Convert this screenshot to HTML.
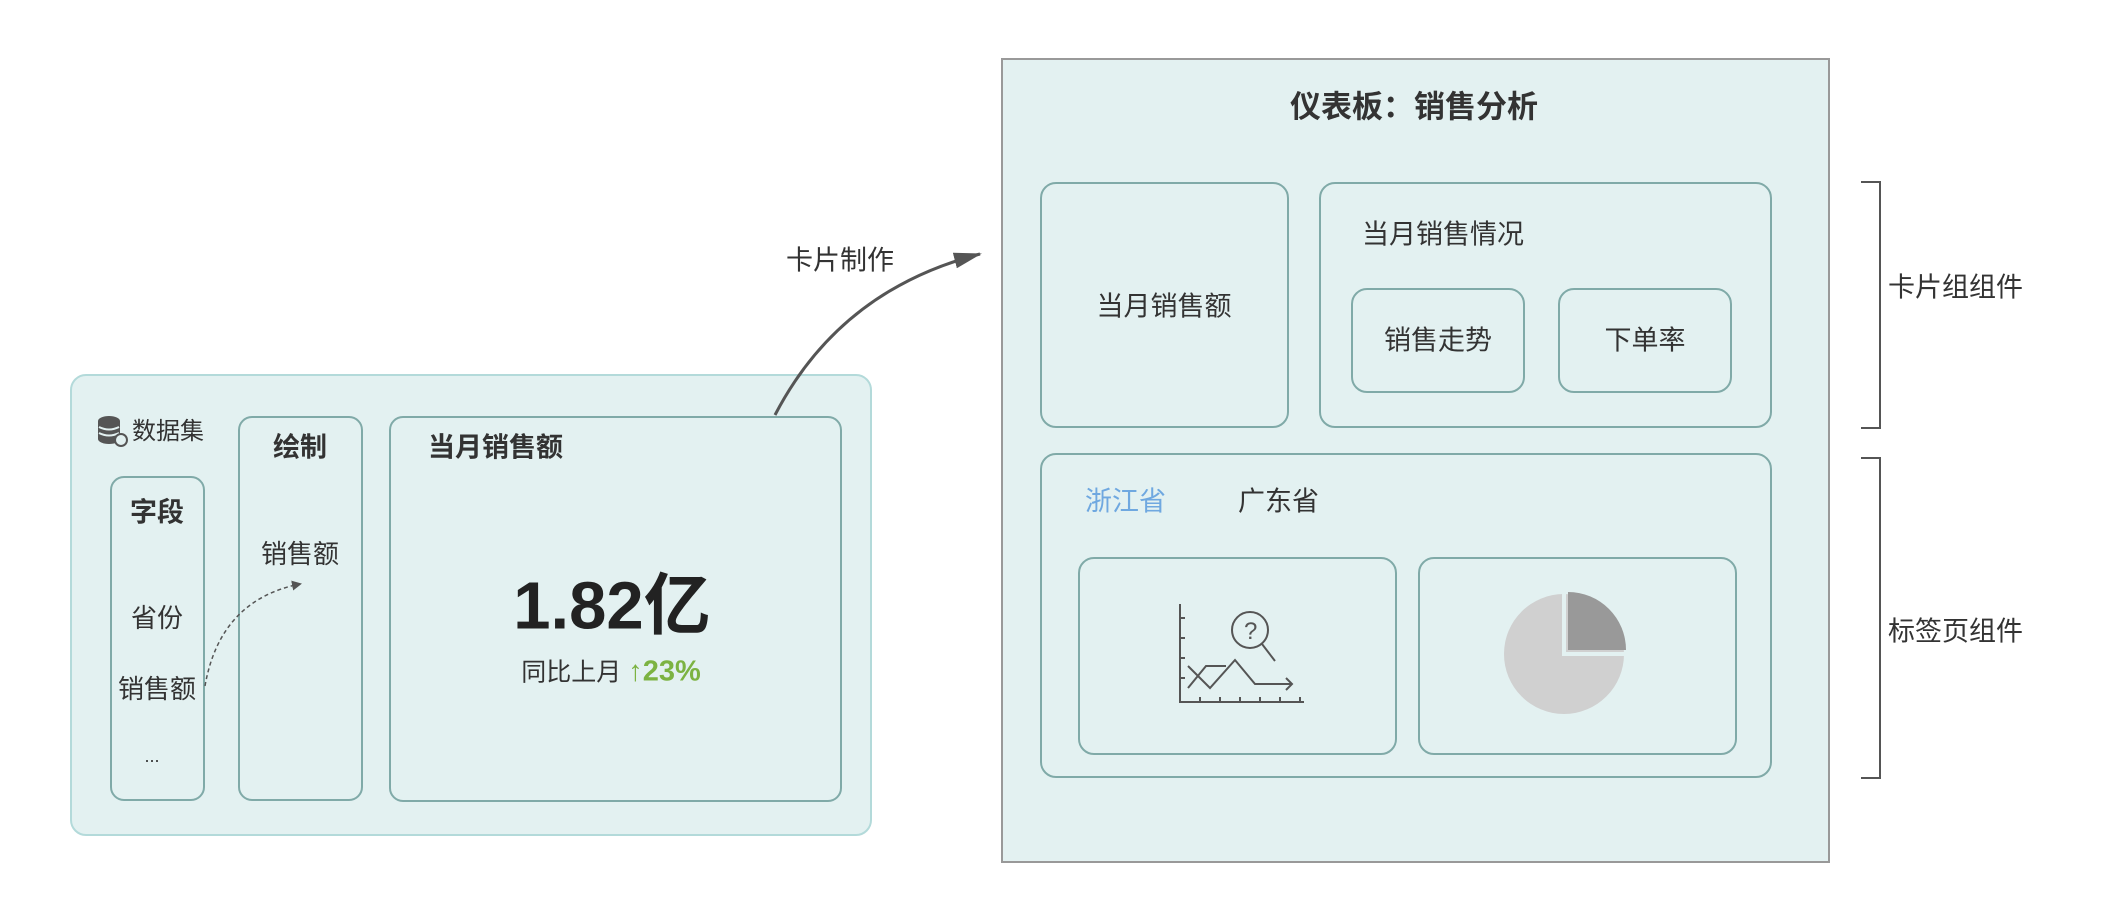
<!DOCTYPE html>
<html><head><meta charset="utf-8"><style>
*{margin:0;padding:0;box-sizing:border-box}
body{width:2110px;height:916px;background:#fff;position:relative;overflow:hidden;font-family:"Liberation Sans","Noto Sans CJK SC",sans-serif;color:#333}
.b{position:absolute;background:#e3f1f1;border:2px solid #80aaa8;border-radius:16px}
.t{position:absolute;white-space:nowrap;line-height:1;transform:translate(-50%,-50%)}
.l{position:absolute;white-space:nowrap;line-height:1;transform:translateY(-50%)}
</style></head><body>
<div class="b" style="left:70px;top:374px;width:802px;height:462px;border-color:#b3dada;border-radius:16px"></div>
<div class="b" style="left:110px;top:476px;width:95px;height:325px;border-radius:14px"></div>
<div class="b" style="left:238px;top:416px;width:125px;height:385px;border-radius:14px"></div>
<div class="b" style="left:389px;top:416px;width:453px;height:386px;border-radius:14px"></div>
<svg style="position:absolute;left:96px;top:414px" width="34" height="34" viewBox="0 0 34 34">
<ellipse cx="13" cy="7" rx="11" ry="5" fill="#555"/><rect x="2" y="7" width="22" height="18" fill="#555"/>
<ellipse cx="13" cy="25" rx="11" ry="5" fill="#555"/>
<path d="M3 13 Q13 18 23 13 M3 19 Q13 24 23 19" stroke="#e3f1f1" stroke-width="2" fill="none"/>
<circle cx="25" cy="26" r="6" fill="#e3f1f1" stroke="#555" stroke-width="2"/></svg>
<div class="l" style="left:132px;top:432px;font-size:24px">数据集</div>
<div class="t" style="left:157px;top:513px;font-size:27px;font-weight:bold">字段</div>
<div class="t" style="left:157px;top:618px;font-size:26px">省份</div>
<div class="t" style="left:157px;top:689px;font-size:26px">销售额</div>
<div class="t" style="left:152px;top:756px;font-size:18px">...</div>
<div class="t" style="left:300px;top:448px;font-size:27px;font-weight:bold">绘制</div>
<div class="t" style="left:300px;top:554px;font-size:26px">销售额</div>
<div class="l" style="left:428px;top:448px;font-size:27px;font-weight:bold">当月销售额</div>
<div class="t" style="left:612px;top:606px;font-size:67px;font-weight:bold;color:#222">1.82亿</div>
<div class="t" style="left:611px;top:672px;font-size:25px">同比上月 <span style="color:#7cb342;font-weight:bold;font-size:29px">↑23%</span></div>
<svg style="position:absolute;left:0;top:0" width="2110" height="916">
<defs><marker id="a" markerWidth="10" markerHeight="10" refX="8" refY="5" orient="auto" markerUnits="userSpaceOnUse"><path d="M0 0L10 5L0 10z" fill="#555"/></marker>
<marker id="b" markerWidth="30" markerHeight="20" refX="26" refY="10" orient="auto" markerUnits="userSpaceOnUse"><path d="M0 2L28 10L0 18z" fill="#555"/></marker></defs>
<path d="M205 686 Q220 600 300 584" stroke="#555" stroke-width="1.5" stroke-dasharray="4,3" fill="none" marker-end="url(#a)"/>
<path d="M775 415 Q840 290 980 254" stroke="#555" stroke-width="3" fill="none" marker-end="url(#b)"/>
<path d="M1861 182 H1880 V428 H1861 M1861 458 H1880 V778 H1861" stroke="#555" stroke-width="2" fill="none"/>
</svg>
<div class="t" style="left:840px;top:261px;font-size:27px">卡片制作</div>
<div style="position:absolute;left:1001px;top:58px;width:829px;height:805px;background:#e3f1f1;border:2px solid #999"></div>
<div class="t" style="left:1414px;top:107px;font-size:31px;font-weight:bold">仪表板：销售分析</div>
<div class="b" style="left:1040px;top:182px;width:249px;height:246px"></div>
<div class="t" style="left:1164px;top:307px;font-size:27px">当月销售额</div>
<div class="b" style="left:1319px;top:182px;width:453px;height:246px"></div>
<div class="l" style="left:1362px;top:235px;font-size:27px">当月销售情况</div>
<div class="b" style="left:1351px;top:288px;width:174px;height:105px"></div>
<div class="t" style="left:1438px;top:341px;font-size:27px">销售走势</div>
<div class="b" style="left:1558px;top:288px;width:174px;height:105px"></div>
<div class="t" style="left:1645px;top:341px;font-size:27px">下单率</div>
<div class="b" style="left:1040px;top:453px;width:732px;height:325px"></div>
<div class="l" style="left:1085px;top:502px;font-size:27px;color:#6fa8e0">浙江省</div>
<div class="l" style="left:1238px;top:502px;font-size:27px">广东省</div>
<div class="b" style="left:1078px;top:557px;width:319px;height:198px"></div>
<div class="b" style="left:1418px;top:557px;width:319px;height:198px"></div>
<svg style="position:absolute;left:1170px;top:598px" width="140" height="112" viewBox="0 0 140 112">
<g stroke="#555" stroke-width="2" fill="none">
<path d="M10 6 V104 H134"/>
<path d="M10 20h5M10 40h5M10 60h5M10 80h5M30 104v-5M50 104v-5M70 104v-5M90 104v-5M110 104v-5M130 104v-5"/>
<path d="M18 68 L40 90 L65 62 L85 86 H122 M116 80 L122 86 L116 92"/>
<path d="M18 90 L36 68 H56"/>
<circle cx="80" cy="32" r="18"/><path d="M92 46 L105 63"/>
</g><text x="74" y="41" font-size="24" fill="#555" font-family="Liberation Sans">?</text></svg>
<svg style="position:absolute;left:1500px;top:590px" width="130" height="130">
<circle cx="64" cy="64" r="60" fill="#d0d0d0"/>
<path d="M68 60 V2 A58 58 0 0 1 126 60 Z" fill="#999"/>
<path d="M64 0 V64 H128" stroke="#e3f1f1" stroke-width="4" fill="none"/>
</svg>
<div class="l" style="left:1888px;top:288px;font-size:27px">卡片组组件</div>
<div class="l" style="left:1888px;top:632px;font-size:27px">标签页组件</div>
</body></html>
